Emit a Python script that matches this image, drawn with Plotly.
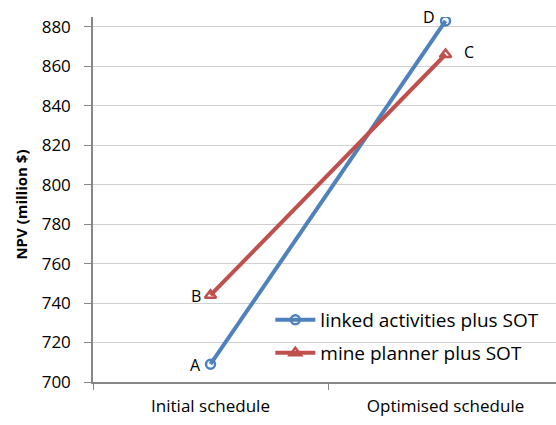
import plotly.graph_objects as go

categories = ["Initial schedule", "Optimised schedule"]
linked_npv = [709, 883]
planner_npv = [744, 866]
linked_labels = ["A", "D"]
planner_labels = ["B", "C"]

blue = "#4F81BD"
red = "#C0504D"
font_family = "Open Sans, Liberation Sans, Arial, sans-serif"

fig = go.Figure()
fig.add_trace(go.Scatter(
    x=categories, y=linked_npv, mode="lines+markers",
    name="linked activities plus SOT", legend="legend",
    line=dict(color=blue, width=4),
    marker=dict(symbol="circle-open", size=9, color=blue, line=dict(width=2.5)),
))
fig.add_trace(go.Scatter(
    x=categories, y=planner_npv, mode="lines+markers",
    name="mine planner plus SOT", legend="legend2",
    line=dict(color=red, width=4),
    marker=dict(symbol="triangle-up-open", size=10, color=red, line=dict(width=2.5)),
))

# point letters: left of the initial points and the blue end, right of the red end
for cat, val, txt, xs, ys in [
    (categories[0], linked_npv[0], linked_labels[0], -15, -1),
    (categories[1], linked_npv[1], linked_labels[1], -17, 4),
    (categories[0], planner_npv[0], planner_labels[0], -15, -1),
    (categories[1], planner_npv[1], planner_labels[1], 23, 2),
]:
    fig.add_annotation(x=cat, y=val, text=txt, showarrow=False, xshift=xs, yshift=ys,
                       font=dict(size=16, color="#000000", family=font_family))

# rotated y-axis title
fig.add_annotation(xref="paper", yref="paper", x=-72 / 463, y=0.486,
                   text="<b>NPV (million $)</b>", textangle=-90, showarrow=False,
                   xanchor="center", yanchor="middle",
                   font=dict(size=15, color="#000000", family=font_family))

# white panel behind the legend entries, hiding the gridlines there
fig.add_shape(type="rect", xref="paper", yref="paper", layer="below",
              x0=(270 - 93) / 463, x1=1.0, y0=(382 - 373) / 365, y1=(382 - 299) / 365,
              fillcolor="white", line=dict(width=0))

legend_style = dict(xanchor="left", yanchor="middle", bgcolor="rgba(255,255,255,0)",
                    font=dict(size=19), itemwidth=40)

fig.update_layout(
    width=556, height=425,
    margin=dict(l=93, r=0, t=17, b=43),
    paper_bgcolor="white", plot_bgcolor="white",
    font=dict(family=font_family, size=16, color="#000000"),
    showlegend=True,
    legend=dict(x=0.383, y=0.170, **legend_style),
    legend2=dict(x=0.383, y=0.0795, **legend_style),
    xaxis=dict(
        type="category", range=[-0.5, 1.47],
        showline=True, linecolor="#868686", linewidth=1.5,
        ticks="outside", tickson="boundaries", ticklen=6, tickcolor="#868686",
        showgrid=False, tickfont=dict(size=17), ticklabelstandoff=8,
    ),
    yaxis=dict(
        range=[700, 885], tickvals=list(range(700, 881, 20)),
        showline=True, linecolor="#868686", linewidth=1.5,
        ticks="outside", ticklen=7, tickcolor="#868686",
        showgrid=True, gridcolor="#D0D0D0", gridwidth=1.2,
        zeroline=False, tickfont=dict(size=17), ticklabelstandoff=10,
    ),
)

fig.write_html("out.html")
